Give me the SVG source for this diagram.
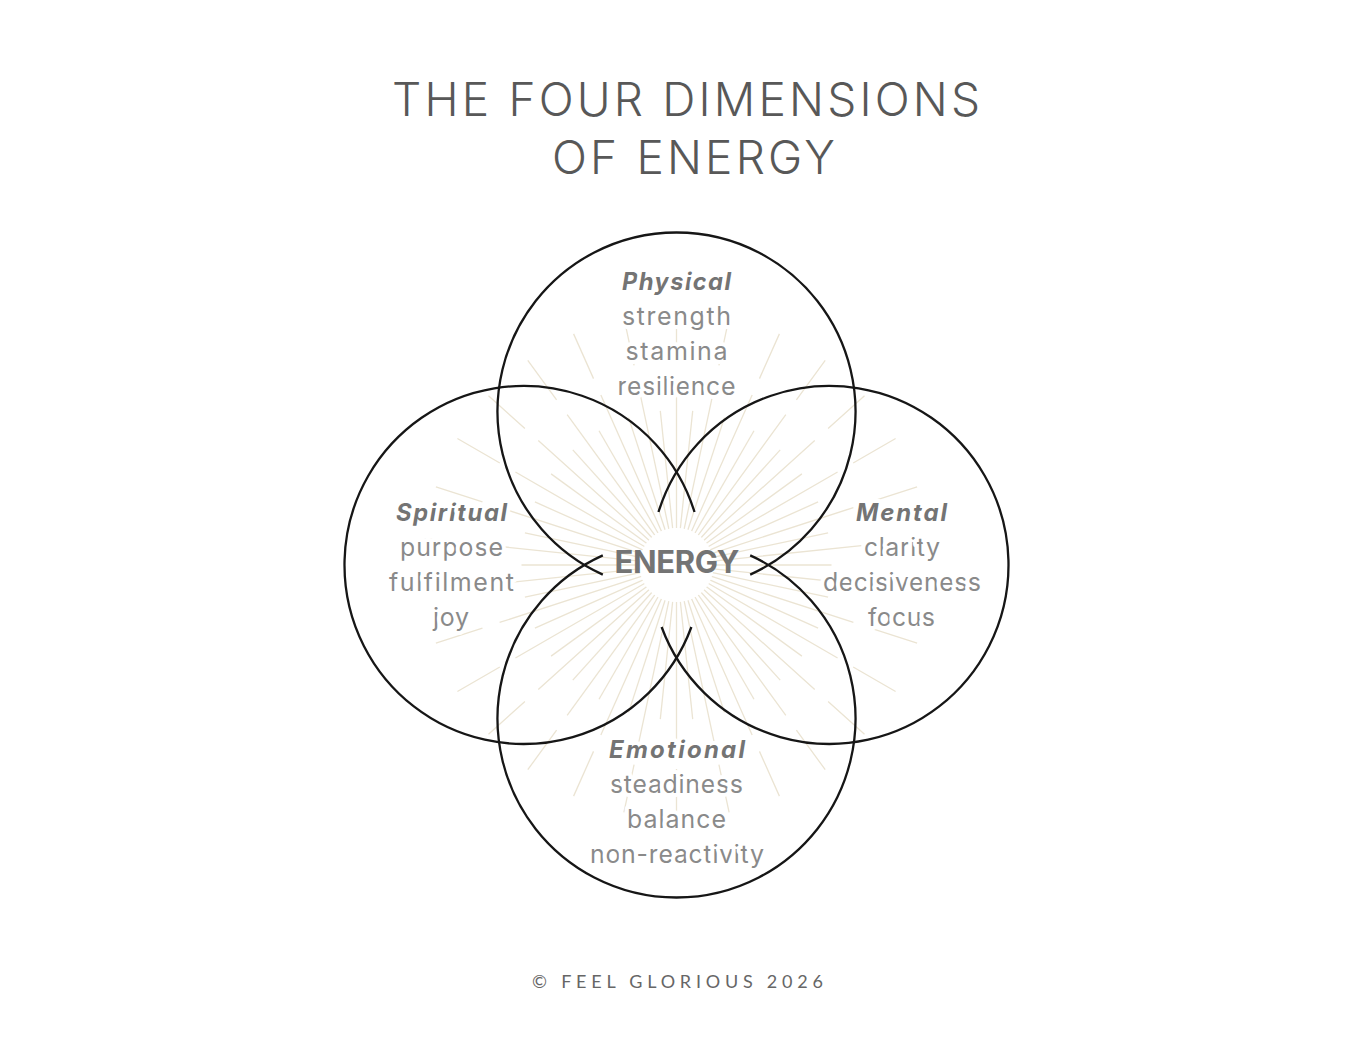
<svg xmlns="http://www.w3.org/2000/svg" xmlns:xlink="http://www.w3.org/1999/xlink" width="1346" height="1045" viewBox="0 0 1346 1045">
<style>
.title{font-family:Inter,"Noto Sans","DejaVu Sans",sans-serif;font-weight:300;font-size:46px;fill:#585858}
.ray{stroke:#ebe4d3;stroke-width:1.3;fill:none}
.ring{fill:none;stroke:#161616;stroke-width:2.3}
.lbl{font-family:Inter,"Noto Sans","DejaVu Sans",sans-serif;font-size:25px;text-anchor:middle;stroke:#fff;stroke-width:8;stroke-linejoin:round;paint-order:stroke}
.head{font-weight:700;font-style:italic;fill:#747474;font-size:24px}
.item{font-weight:400;fill:#8a8a8a}
.core{font-family:Inter,"Noto Sans","DejaVu Sans",sans-serif;font-size:31px;font-weight:700;fill:#747474;text-anchor:middle}
.foot{font-family:Lato,"Liberation Sans",sans-serif;font-size:18px;fill:#666;font-weight:400}
</style>
<defs>
<line id="rayEven" class="ray" x1="713.5" y1="565" x2="831.5" y2="565"/>
<path id="rayOdd" class="ray" d="M713.5 565H862.5M880.5 565H929.5"/>
</defs>
<rect width="1346" height="1045" fill="#fff"/>
<g id="title">
<text class="title" x="392" y="116" textLength="588" lengthAdjust="spacing">THE FOUR DIMENSIONS</text>
<text class="title" x="552" y="174" textLength="283" lengthAdjust="spacing">OF ENERGY</text>
</g>
<g id="rays">
<use href="#rayEven"/>
<use href="#rayEven" transform="rotate(12 676.5 565)"/>
<use href="#rayEven" transform="rotate(24 676.5 565)"/>
<use href="#rayEven" transform="rotate(36 676.5 565)"/>
<use href="#rayEven" transform="rotate(48 676.5 565)"/>
<use href="#rayEven" transform="rotate(60 676.5 565)"/>
<use href="#rayEven" transform="rotate(72 676.5 565)"/>
<use href="#rayEven" transform="rotate(84 676.5 565)"/>
<use href="#rayEven" transform="rotate(96 676.5 565)"/>
<use href="#rayEven" transform="rotate(108 676.5 565)"/>
<use href="#rayEven" transform="rotate(120 676.5 565)"/>
<use href="#rayEven" transform="rotate(132 676.5 565)"/>
<use href="#rayEven" transform="rotate(144 676.5 565)"/>
<use href="#rayEven" transform="rotate(156 676.5 565)"/>
<use href="#rayEven" transform="rotate(168 676.5 565)"/>
<use href="#rayEven" transform="rotate(180 676.5 565)"/>
<use href="#rayEven" transform="rotate(192 676.5 565)"/>
<use href="#rayEven" transform="rotate(204 676.5 565)"/>
<use href="#rayEven" transform="rotate(216 676.5 565)"/>
<use href="#rayEven" transform="rotate(228 676.5 565)"/>
<use href="#rayEven" transform="rotate(240 676.5 565)"/>
<use href="#rayEven" transform="rotate(252 676.5 565)"/>
<use href="#rayEven" transform="rotate(264 676.5 565)"/>
<use href="#rayEven" transform="rotate(276 676.5 565)"/>
<use href="#rayEven" transform="rotate(288 676.5 565)"/>
<use href="#rayEven" transform="rotate(300 676.5 565)"/>
<use href="#rayEven" transform="rotate(312 676.5 565)"/>
<use href="#rayEven" transform="rotate(324 676.5 565)"/>
<use href="#rayEven" transform="rotate(336 676.5 565)"/>
<use href="#rayEven" transform="rotate(348 676.5 565)"/>
<use href="#rayOdd" transform="rotate(6 676.5 565)"/>
<use href="#rayOdd" transform="rotate(18 676.5 565)"/>
<use href="#rayOdd" transform="rotate(30 676.5 565)"/>
<use href="#rayOdd" transform="rotate(42 676.5 565)"/>
<use href="#rayOdd" transform="rotate(54 676.5 565)"/>
<use href="#rayOdd" transform="rotate(66 676.5 565)"/>
<use href="#rayOdd" transform="rotate(78 676.5 565)"/>
<use href="#rayOdd" transform="rotate(90 676.5 565)"/>
<use href="#rayOdd" transform="rotate(102 676.5 565)"/>
<use href="#rayOdd" transform="rotate(114 676.5 565)"/>
<use href="#rayOdd" transform="rotate(126 676.5 565)"/>
<use href="#rayOdd" transform="rotate(138 676.5 565)"/>
<use href="#rayOdd" transform="rotate(150 676.5 565)"/>
<use href="#rayOdd" transform="rotate(162 676.5 565)"/>
<use href="#rayOdd" transform="rotate(174 676.5 565)"/>
<use href="#rayOdd" transform="rotate(186 676.5 565)"/>
<use href="#rayOdd" transform="rotate(198 676.5 565)"/>
<use href="#rayOdd" transform="rotate(210 676.5 565)"/>
<use href="#rayOdd" transform="rotate(222 676.5 565)"/>
<use href="#rayOdd" transform="rotate(234 676.5 565)"/>
<use href="#rayOdd" transform="rotate(246 676.5 565)"/>
<use href="#rayOdd" transform="rotate(258 676.5 565)"/>
<use href="#rayOdd" transform="rotate(270 676.5 565)"/>
<use href="#rayOdd" transform="rotate(282 676.5 565)"/>
<use href="#rayOdd" transform="rotate(294 676.5 565)"/>
<use href="#rayOdd" transform="rotate(306 676.5 565)"/>
<use href="#rayOdd" transform="rotate(318 676.5 565)"/>
<use href="#rayOdd" transform="rotate(330 676.5 565)"/>
<use href="#rayOdd" transform="rotate(342 676.5 565)"/>
<use href="#rayOdd" transform="rotate(354 676.5 565)"/>
<circle cx="676.5" cy="565" r="37" fill="#fff"/>
</g>
<g id="connectors">
<path id="ring-physical" class="ring" d="M602.8 574.6A179 179 0 1 1 750.2 574.6"/>
<path id="ring-emotional" class="ring" d="M602.8 555.4A179 179 0 1 0 750.2 555.4"/>
<path id="ring-spiritual" class="ring" d="M694.5 512A179 179 0 1 0 691.4 627"/>
<path id="ring-mental" class="ring" d="M658.5 512A179 179 0 1 1 661.6 627"/>
</g>
<g id="node-physical" class="lbl">
<text class="head" x="676.5" y="290" textLength="109" lengthAdjust="spacing">Physical</text>
<text class="item" x="676.5" y="325" textLength="109" lengthAdjust="spacing">strength</text>
<text class="item" x="676.5" y="360" textLength="102" lengthAdjust="spacing">stamina</text>
<text class="item" x="676.5" y="395" textLength="118" lengthAdjust="spacing">resilience</text>
</g>
<g id="node-spiritual" class="lbl">
<text class="head" x="451.5" y="521" textLength="111" lengthAdjust="spacing">Spiritual</text>
<text class="item" x="451.5" y="556" textLength="103" lengthAdjust="spacing">purpose</text>
<text class="item" x="451.5" y="591" textLength="125" lengthAdjust="spacing">fulfilment</text>
<text class="item" x="451" y="626" textLength="36" lengthAdjust="spacing">joy</text>
</g>
<g id="node-mental" class="lbl">
<text class="head" x="901.5" y="521" textLength="91" lengthAdjust="spacing">Mental</text>
<text class="item" x="902" y="556" textLength="76" lengthAdjust="spacing">clarity</text>
<text class="item" x="902" y="591" textLength="158" lengthAdjust="spacing">decisiveness</text>
<text class="item" x="901.5" y="626" textLength="67" lengthAdjust="spacing">focus</text>
</g>
<g id="node-emotional" class="lbl">
<text class="head" x="677" y="758" textLength="136" lengthAdjust="spacing">Emotional</text>
<text class="item" x="676.5" y="793" textLength="133" lengthAdjust="spacing">steadiness</text>
<text class="item" x="676.5" y="828" textLength="99" lengthAdjust="spacing">balance</text>
<text class="item" x="677" y="863" textLength="174" lengthAdjust="spacing">non-reactivity</text>
</g>
<g id="node-energy">
<text class="core" x="677" y="573" textLength="125" lengthAdjust="spacing">ENERGY</text>
</g>
<g id="footer">
<text class="foot" x="532" y="988" textLength="291" lengthAdjust="spacing">© FEEL GLORIOUS 2026</text>
</g>
</svg>
